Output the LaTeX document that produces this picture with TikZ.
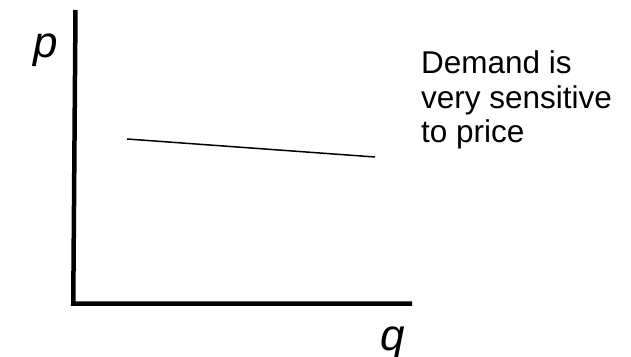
\documentclass[tikz,border=0pt]{standalone}
\usepackage{fontspec}
\setmainfont{Liberation Sans}
\usepackage{tikz}
\usetikzlibrary{positioning}

\begin{document}
\begin{tikzpicture}[
  x=1pt,y=1pt,
  axis/.style={draw=black,line width=4.5pt},
  curve/.style={draw=black,line width=1.5pt},
  varlabel/.style={font=\fontsize{44}{48}\selectfont\itshape,inner sep=0pt,anchor=base},
  remark/.style={font=\fontsize{31.5}{34.5}\selectfont,align=left,inner sep=0pt,anchor=base west}
]
  \useasboundingbox (0,0) rectangle (631,356);

  % axes
  \coordinate (origin) at (75.5,52.5);
  \coordinate (ptop) at (75.5,346);
  \coordinate (qend) at (412,52.5);
  \draw[axis] (ptop) -- ([xshift=-2.25pt]origin) -- (qend);

  \node[varlabel] (plabel) at (46,298) {p};
  \node[varlabel] (qlabel) at (393,6) {q};

  % flat demand curve
  \coordinate (dleft) at (127,217);
  \coordinate (dright) at (375,199);
  \draw[curve] (dleft) -- (dright);

  \node[remark] (note) at (421,213) {Demand is\\very sensitive\\to price};
\end{tikzpicture}
\end{document}
